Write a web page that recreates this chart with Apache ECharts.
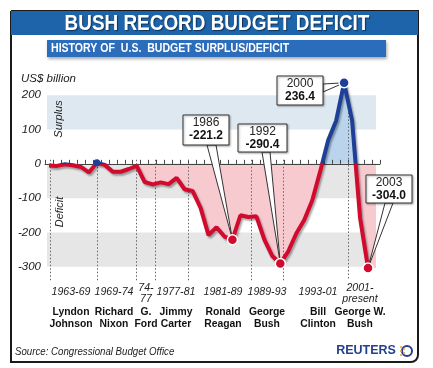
<!DOCTYPE html>
<html><head><meta charset="utf-8">
<script src="https://cdn.jsdelivr.net/npm/echarts@6/dist/echarts.min.js"></script>
<style>html,body{margin:0;padding:0;background:#fff}#c{width:433px;height:368px}</style>
</head><body><div id="c"></div>
<script>
// ---------------- DATA ----------------
const years = [1963,1964,1965,1966,1967,1968,1969,1970,1971,1972,1973,1974,1975,1976,1977,1978,1979,1980,1981,1982,1983,1984,1985,1986,1987,1988,1989,1990,1991,1992,1993,1994,1995,1996,1997,1998,1999,2000,2001,2002,2003];
const balance = [-5,-6,-1,-4,-9,-25,3,-3,-23,-23,-15,-6,-53,-60,-54,-59,-41,-74,-79,-128,-208,-185,-212,-221.2,-150,-155,-153,-221,-269,-290.4,-255,-203,-164,-107,-22,69,126,236.4,127,-158,-304.0];
const calloutYears = [1986,1992,2000,2003];
const smallDotYears = [1969];
const termDividers = [1963.1,1969,1973.9,1976.3,1980.4,1988.4,1992.4,2000.5];
const termPeriods = ['1963-69','1969-74','74-\n77','1977-81','1981-89','1989-93','1993-01','2001-\npresent'];
const presidents = ['Lyndon\nJohnson','Richard\nNixon','G.\nFord','Jimmy\nCarter','Ronald\nReagan','George\nBush','Bill\nClinton','George W.\nBush'];
const yTickLabels = [200,100,0,-100,-200,-300];
const fillStartYear = 1974;

// ---------------- STYLE / LAYOUT ----------------
const FONT = 'Liberation Sans, Arial, sans-serif';
const RED = '#d20a2e', BLUE = '#1d3f97', PINK = '#f7cad0', LBLUE = '#b9d4ec';
const bandStart = 1962.75, bandEnd = 2004;

const chart = echarts.init(document.getElementById('c'), null, {renderer: 'canvas'});

const lineData = years.map((y, i) => {
  const item = {value: [y, balance[i]]};
  if (calloutYears.includes(y)) { item.symbol = 'circle'; item.symbolSize = 10; }
  else if (smallDotYears.includes(y)) { item.symbol = 'circle'; item.symbolSize = 7; item.itemStyle = {borderWidth: 0}; }
  return item;
});
const fillData = years.map((y, i) => [y, balance[i]]).filter(d => d[0] >= fillStartYear);
fillData.push([bandEnd, balance[balance.length - 1]]);

const dividerLines = termDividers.map((x, i) => [
  {coord: [x, i === termDividers.length - 1 ? 150 : 12]},
  {coord: [x, -340]}
]);

chart.setOption({
  animation: false,
  backgroundColor: '#fff',
  grid: {left: 45, top: 61, width: 335, height: 240},
  xAxis: {
    type: 'value', min: 1962.5, max: 2004.5, interval: 1, z: 3,
    axisLabel: {show: false}, splitLine: {show: false},
    axisLine: {onZero: true, lineStyle: {color: '#444', width: 1}},
    axisTick: {inside: true, length: 4, lineStyle: {color: '#444'}}
  },
  yAxis: {
    type: 'value', min: -400, max: 300, interval: 100,
    splitLine: {show: false}, axisLine: {show: false}, axisTick: {show: false},
    axisLabel: {
      margin: 4, fontFamily: FONT, fontStyle: 'italic', fontSize: 11.5, color: '#222',
      formatter: v => yTickLabels.includes(v) ? String(v) : ''
    }
  },
  visualMap: [
    {type: 'piecewise', show: false, seriesIndex: 1, dimension: 1,
      pieces: [{min: -1000, max: 0, color: RED}, {min: 0, max: 1000, color: BLUE}]},
    {type: 'piecewise', show: false, seriesIndex: 0, dimension: 1,
      pieces: [{min: -1000, max: 0, color: PINK}, {min: 0, max: 1000, color: LBLUE}]}
  ],
  series: [
    {
      type: 'line', z: 2, silent: true, symbol: 'none',
      data: fillData,
      lineStyle: {width: 0},
      areaStyle: {opacity: 1},
      markArea: {
        silent: true, z: 1,
        itemStyle: {color: '#e6e6e6'},
        data: [
          [{coord: [bandStart, 100], itemStyle: {color: '#dde8f0'}}, {coord: [bandEnd, 200]}],
          [{coord: [bandStart, 0]}, {coord: [bandEnd, -100]}],
          [{coord: [bandStart, -200]}, {coord: [bandEnd, -300]}]
        ]
      },
      markLine: {
        silent: true, z: 4, symbol: 'none', label: {show: false},
        lineStyle: {type: [1.5, 2], color: '#666', width: 1},
        data: dividerLines
      }
    },
    {
      type: 'line', z: 6, silent: true, symbol: 'none', showSymbol: true, showAllSymbol: true,
      data: lineData,
      lineStyle: {width: 4, shadowColor: 'rgba(0,0,0,0.35)', shadowBlur: 2, shadowOffsetX: 1.5, shadowOffsetY: 2},
      itemStyle: {borderColor: '#fff', borderWidth: 1.5}
    }
  ]
});

// ---------------- TEXT / DECORATION ----------------
const labelX = [71, 114, 146, 176, 223, 267, 318, 360];
const g = [];
g.push({type: 'rect', z: 10, shape: {x: 11, y: 11, width: 407, height: 351, r: [0, 0, 7, 0]},
  style: {fill: 'none', stroke: '#1a1a1a', lineWidth: 2}});
g.push({type: 'rect', z: 11, shape: {x: 11, y: 11, width: 407, height: 24}, style: {fill: '#1d64aa'}});
g.push({type: 'text', z: 12, x: 217, y: 24, scaleX: 0.86,
  style: {text: 'BUSH RECORD BUDGET DEFICIT', x: 0, y: 0, align: 'center', verticalAlign: 'middle',
    font: 'bold 22px ' + FONT, fill: '#fff', textShadowColor: 'rgba(0,0,0,0.5)', textShadowOffsetX: 1, textShadowOffsetY: 1, textShadowBlur: 1}});
g.push({type: 'rect', z: 11, shape: {x: 47, y: 40, width: 339, height: 17},
  style: {fill: '#2c6dbb', shadowColor: 'rgba(0,0,0,0.35)', shadowBlur: 3, shadowOffsetX: 1, shadowOffsetY: 2}});
g.push({type: 'text', z: 12, x: 51, y: 49, scaleX: 0.88,
  style: {text: 'HISTORY OF  U.S.  BUDGET SURPLUS/DEFICIT', x: 0, y: 0, align: 'left', verticalAlign: 'middle',
    font: 'bold 12px ' + FONT, fill: '#fff'}});
g.push({type: 'text', z: 12, x: 21, y: 79,
  style: {text: 'US$ billion', x: 0, y: 0, align: 'left', verticalAlign: 'middle', font: 'italic 11.5px ' + FONT, fill: '#222'}});
g.push({type: 'text', z: 12, x: 59, y: 119, rotation: Math.PI / 2,
  style: {text: 'Surplus', x: 0, y: 0, align: 'center', verticalAlign: 'middle', font: 'italic 11px ' + FONT, fill: '#222'}});
g.push({type: 'text', z: 12, x: 60, y: 212, rotation: Math.PI / 2,
  style: {text: 'Deficit', x: 0, y: 0, align: 'center', verticalAlign: 'middle', font: 'italic 11px ' + FONT, fill: '#222'}});
termPeriods.forEach((t, i) => {
  const two = t.includes('\n');
  g.push({type: 'text', z: 12, x: labelX[i], y: two ? 293 : 292, scaleX: 0.92,
    style: {text: t, x: 0, y: 0, align: 'center', verticalAlign: 'middle', lineHeight: two ? 11 : 12,
      font: 'italic 11.5px ' + FONT, fill: '#222'}});
});
presidents.forEach((t, i) => {
  g.push({type: 'text', z: 12, x: labelX[i], y: 318, scaleX: 0.9,
    style: {text: t, x: 0, y: 0, align: 'center', verticalAlign: 'middle', lineHeight: 12,
      font: 'bold 11.5px ' + FONT, fill: '#111'}});
});
g.push({type: 'text', z: 12, x: 15, y: 352, scaleX: 0.88,
  style: {text: 'Source: Congressional Budget Office', x: 0, y: 0, align: 'left', verticalAlign: 'middle',
    font: 'italic 11px ' + FONT, fill: '#222'}});
g.push({type: 'text', z: 12, x: 366, y: 351,
  style: {text: 'REUTERS', x: 0, y: 0, align: 'center', verticalAlign: 'middle',
    font: 'bold 12.5px ' + FONT, fill: '#23408e'}});
g.push({type: 'circle', z: 12, shape: {cx: 407, cy: 351, r: 5}, style: {fill: 'none', stroke: '#23408e', lineWidth: 2}});
[[401, 347], [401, 351], [401, 355], [404, 349], [404, 353]].forEach(p =>
  g.push({type: 'circle', z: 12, shape: {cx: p[0], cy: p[1], r: 1}, style: {fill: '#f0a030'}}));

const callLayout = {
  1986: {box: [183, 115, 46, 30], base: [[207, 145], [216, 145]]},
  1992: {box: [238, 124, 49, 28], base: [[262, 152], [270, 152]]},
  2000: {box: [277, 76, 46, 29], base: [[323, 84], [323, 92]]},
  2003: {box: [366, 175, 46, 28], base: [[385, 203], [393, 203]]}
};
calloutYears.forEach(y => {
  const v = balance[years.indexOf(y)];
  const tip = chart.convertToPixel({gridIndex: 0}, [y, v]);
  const L = callLayout[y];
  const [bx, by, bw, bh] = L.box;
  g.push({type: 'polygon', z: 5, shape: {points: [L.base[0], L.base[1], tip]},
    style: {fill: '#fff', stroke: '#333', lineWidth: 1}});
  g.push({type: 'rect', z: 5, shape: {x: bx, y: by, width: bw, height: bh},
    style: {fill: '#fff', stroke: '#333', lineWidth: 1, shadowColor: 'rgba(0,0,0,0.3)', shadowBlur: 2, shadowOffsetX: 1, shadowOffsetY: 1}});
  g.push({type: 'text', z: 5, x: bx + bw / 2, y: by + 8,
    style: {text: String(y), x: 0, y: 0, align: 'center', verticalAlign: 'middle', font: '12px ' + FONT, fill: '#222'}});
  g.push({type: 'text', z: 5, x: bx + bw / 2, y: by + 21,
    style: {text: v.toFixed(1), x: 0, y: 0, align: 'center', verticalAlign: 'middle', font: 'bold 12px ' + FONT, fill: '#111'}});
});

chart.setOption({graphic: {elements: g}});
</script></body></html>
